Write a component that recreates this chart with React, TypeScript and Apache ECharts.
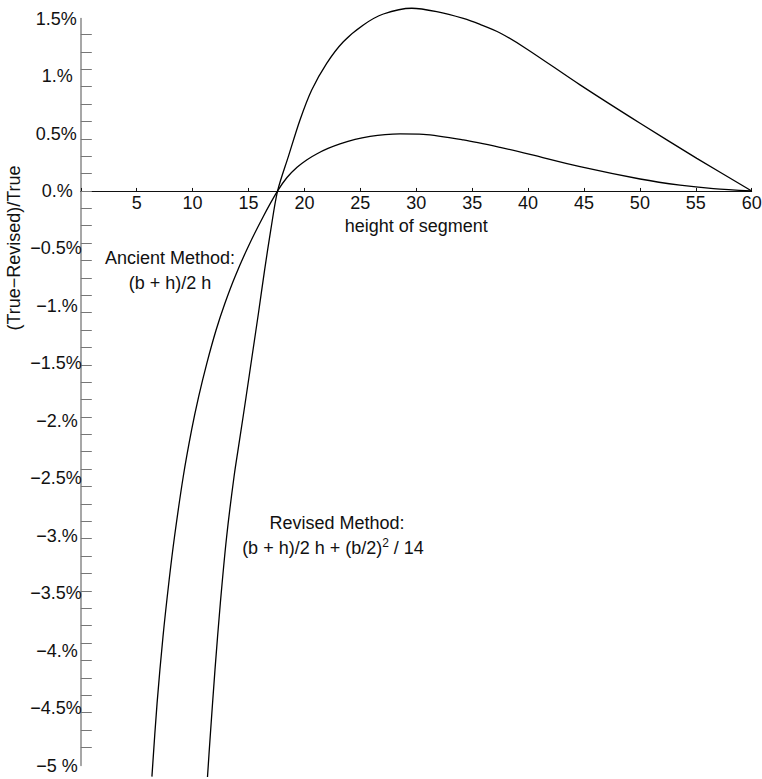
import React, { useEffect, useRef } from 'react';
import * as echarts from 'echarts';

// height of segment (x) and error in percent (y)
const ANCIENT_H = [6.36, 6.82, 7.35, 7.9, 8.38, 9.16, 9.91, 10.54, 11.27, 12.1, 12.89, 13.79, 14.97, 16.31, 17.6, 18.44, 19.34, 20.23, 21.13, 22.11, 23.18, 24.53, 25.87, 27.21, 28.55, 30.63, 34.21, 37.5, 40.18, 44.65, 50.02, 53.59, 56.57, 60];
const ANCIENT_V = [-5.097, -4.459, -3.879, -3.386, -3.009, -2.487, -2.08, -1.79, -1.5, -1.21, -0.977, -0.746, -0.485, -0.224, 0, 0.117, 0.206, 0.272, 0.324, 0.37, 0.41, 0.449, 0.475, 0.491, 0.497, 0.493, 0.444, 0.379, 0.318, 0.211, 0.104, 0.05, 0.02, 0];

const REVISED_H = [11.33, 11.57, 12.0, 12.48, 13.04, 13.7, 14.2, 14.78, 15.4, 15.89, 16.44, 16.99, 17.6, 18.56, 19.61, 20.65, 21.99, 23.48, 25.27, 27.06, 29.6, 31.83, 34.21, 35.71, 37.5, 39.88, 44.65, 50.02, 55.09, 60];
const REVISED_V = [-5.1, -4.752, -4.168, -3.586, -3.011, -2.489, -2.167, -1.793, -1.384, -1.062, -0.687, -0.339, 0, 0.299, 0.62, 0.879, 1.111, 1.299, 1.445, 1.54, 1.59, 1.56, 1.501, 1.449, 1.375, 1.236, 0.923, 0.589, 0.284, 0];

const Y_LABEL_VALUES = [-5, -4.5, -4, -3.5, -3, -2.5, -2, -1.5, -1, -0.5, 0, 0.5, 1, 1.5];
const Y_LABEL_TEXTS = ['−5 %', '−4.5%', '−4.%', '−3.5%', '−3.%', '−2.5%', '−2.%', '−1.5%', '−1.%', '−0.5%', '0.%', '0.5%', '1.%', '1.5%'];
const Y_TICK_STEP = 0.1513;
const Y_TICK_FIRST = -32;
const Y_TICK_COUNT = 42;

const X_NAME = 'height of segment';
const Y_NAME = '(True−Revised)/True';

const FONT = '"Liberation Sans", Arial, Helvetica, sans-serif';

export default function App() {
  const ref = useRef<HTMLDivElement>(null);
  useEffect(() => {
    if (!ref.current) return;
    const chart = echarts.init(ref.current, undefined, { renderer: 'svg' });
    const yTicks = Array.from({ length: Y_TICK_COUNT }, (_, i) => +((Y_TICK_FIRST + i) * Y_TICK_STEP).toFixed(4));
    const padFor = (t: string) => {
      const neg = t.startsWith('−');
      const half = t.includes('.5');
      if (neg && half) return 'p0';
      if (neg) return 'p3';
      if (half) return 'p4';
      return 'p8';
    };
    const baseRich = { fontSize: 18, fontFamily: FONT, color: '#111' };
    const left = 80.8;
    const width = 670.9;
    const top = 18.6;
    const height = 746.9;
    const zeroY = top + height * (1.5 / 6.5);
    chart.setOption({
      animation: false,
      grid: [
        { left, top, width, height, containLabel: false, outerBoundsMode: 'none' },
        { left, top: 0, width, height: zeroY, containLabel: false, outerBoundsMode: 'none' },
      ],
      xAxis: [
        { type: 'value', gridIndex: 0, min: 0, max: 60, show: false },
        {
          type: 'value',
          gridIndex: 1,
          min: 0,
          max: 60,
          interval: 5,
          position: 'bottom',
          name: X_NAME,
          nameLocation: 'middle',
          nameGap: 26,
          nameTextStyle: { fontSize: 18, fontFamily: FONT, color: '#111' },
          axisLine: { onZero: false, lineStyle: { color: '#111', width: 1 } },
          axisTick: { inside: true, length: 3, lineStyle: { color: '#111', width: 1 } },
          axisLabel: {
            margin: 3,
            fontSize: 18,
            fontFamily: FONT,
            color: '#111',
            formatter: (v: number) => (v === 0 ? '' : String(v)),
          },
          splitLine: { show: false },
        },
      ],
      yAxis: [
        {
          type: 'value',
          gridIndex: 0,
          min: -5,
          max: 1.5,
          interval: 0.5,
          axisLine: { onZero: false, lineStyle: { color: '#8a8a8a', width: 1.5 } },
          axisTick: { inside: true, length: 11, customValues: yTicks, lineStyle: { color: '#777', width: 1 } },
          axisLabel: {
            margin: -1,
            fontSize: 18,
            fontFamily: FONT,
            color: '#111',
            formatter: (v: number) => {
              const idx = Y_LABEL_VALUES.findIndex((x) => Math.abs(x - v) < 1e-6);
              if (idx < 0) return '';
              const t = Y_LABEL_TEXTS[idx];
              return '{' + padFor(t) + '|' + t + '}';
            },
            rich: {
              p0: { ...baseRich, padding: [0, 0, 0, 0] },
              p3: { ...baseRich, padding: [0, 4, 0, 0] },
              p4: { ...baseRich, padding: [0, 5, 0, 0] },
              p8: { ...baseRich, padding: [0, 9, 0, 0] },
            },
          },
          splitLine: { show: false },
        },
        { type: 'value', gridIndex: 1, min: 0, max: 1, show: false },
      ],
      graphic: [
        {
          type: 'text',
          x: 14,
          y: 248,
          rotation: Math.PI / 2,
          style: { text: Y_NAME, fontSize: 18, fontFamily: FONT, fill: '#111', align: 'center', verticalAlign: 'middle' },
        },
        {
          type: 'text',
          x: 170,
          y: 258,
          style: { text: 'Ancient Method:', fontSize: 18, fontFamily: FONT, fill: '#111', align: 'center', verticalAlign: 'middle' },
        },
        {
          type: 'text',
          x: 170,
          y: 283,
          style: { text: '(b + h)/2 h', fontSize: 18, fontFamily: FONT, fill: '#111', align: 'center', verticalAlign: 'middle' },
        },
        {
          type: 'text',
          x: 337,
          y: 523,
          style: { text: 'Revised Method:', fontSize: 18, fontFamily: FONT, fill: '#111', align: 'center', verticalAlign: 'middle' },
        },
        {
          type: 'text',
          x: 333,
          y: 548,
          style: {
            text: '{n|(b + h)/2 h + (b/2)}{s|2}{n| / 14}',
            align: 'center',
            verticalAlign: 'middle',
            rich: {
              n: { fontSize: 18, fontFamily: FONT, fill: '#111', color: '#111', lineHeight: 22 },
              s: { fontSize: 12, fontFamily: FONT, fill: '#111', color: '#111', verticalAlign: 'top', lineHeight: 22, padding: [0, 0, 8, 0] },
            },
          },
        },
      ],
      series: [
        {
          type: 'line',
          name: 'Ancient',
          xAxisIndex: 0,
          yAxisIndex: 0,
          data: ANCIENT_H.map((h, i) => [h, ANCIENT_V[i]]),
          showSymbol: false,
          smooth: 0.3,
          clip: false,
          lineStyle: { color: '#000', width: 1.3 },
        },
        {
          type: 'line',
          name: 'Revised',
          xAxisIndex: 0,
          yAxisIndex: 0,
          data: REVISED_H.map((h, i) => [h, REVISED_V[i]]),
          showSymbol: false,
          smooth: 0.3,
          clip: false,
          lineStyle: { color: '#000', width: 1.3 },
        },
      ],
    });
    return () => chart.dispose();
  }, []);
  return (
    <div
      ref={ref}
      style={{ position: 'fixed', left: 0, top: 0, width: 762, height: 779, background: '#fff' }}
    />
  );
}
